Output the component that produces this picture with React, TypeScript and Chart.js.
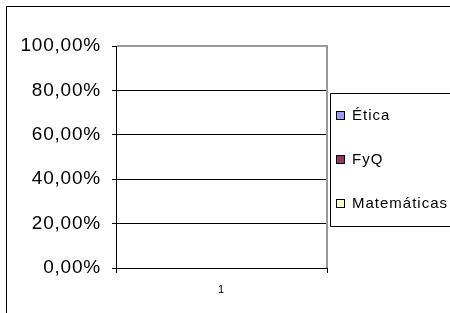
import React, { useEffect, useRef } from "react";
import { Chart, registerables } from "chart.js";

Chart.register(...registerables);

const categories = ["1"];
const seriesNames = ["Ética", "FyQ", "Matemáticas"];
const eticaValues = [0];
const fyqValues = [0];
const matematicasValues = [0];
const seriesColors = ["#9999FF", "#993366", "#FFFFCC"];
const yTickValues = [0, 0.2, 0.4, 0.6, 0.8, 1];

const FONT = "'Liberation Sans', Arial, sans-serif";

const fmtPct = (v: number) => (v * 100).toFixed(2).replace(".", ",") + "%";

const decorPlugin = {
  id: "decor",
  beforeDraw(chart: any) {
    const ctx = chart.ctx;
    ctx.save();
    ctx.fillStyle = "#ffffff";
    ctx.fillRect(0, 0, chart.width, chart.height);
    ctx.strokeStyle = "#000000";
    ctx.lineWidth = 1;
    ctx.beginPath();
    ctx.moveTo(6.5, chart.height + 2);
    ctx.lineTo(6.5, 6.5);
    ctx.lineTo(chart.width + 2, 6.5);
    ctx.stroke();
    ctx.restore();
    ctx.letterSpacing = "0.8px";
  },
  afterDraw(chart: any) {
    const ctx = chart.ctx;
    const a = chart.chartArea;
    ctx.save();
    // gray plot border top & right
    ctx.strokeStyle = "#999999";
    ctx.lineWidth = 2;
    ctx.beginPath();
    ctx.moveTo(a.left + 1, a.top);
    ctx.lineTo(a.right, a.top);
    ctx.lineTo(a.right, a.bottom);
    ctx.stroke();
    // legend
    const lx = 330.5;
    const ly = 93.5;
    const lb = 226.5;
    ctx.strokeStyle = "#000000";
    ctx.lineWidth = 1;
    ctx.beginPath();
    ctx.moveTo(chart.width + 2, ly);
    ctx.lineTo(lx, ly);
    ctx.lineTo(lx, lb);
    ctx.lineTo(chart.width + 2, lb);
    ctx.stroke();
    const ys = [115, 159, 203];
    ctx.font = "15px " + FONT;
    ctx.letterSpacing = "1px";
    ctx.textBaseline = "middle";
    ctx.textAlign = "left";
    chart.data.datasets.forEach((ds: any, i: number) => {
      const y = ys[i];
      ctx.fillStyle = ds.backgroundColor;
      ctx.fillRect(336, y - 4, 9, 9);
      ctx.strokeStyle = "#000000";
      ctx.lineWidth = 1;
      ctx.strokeRect(336.5, y - 3.5, 8, 8);
      ctx.fillStyle = "#000000";
      ctx.fillText(ds.label, 352, y + 1);
    });
    ctx.restore();
    ctx.letterSpacing = "0px";
  },
};

export default function App() {
  const ref = useRef<HTMLCanvasElement | null>(null);
  useEffect(() => {
    if (!ref.current) return;
    const seriesValues = [eticaValues, fyqValues, matematicasValues];
    const chart = new Chart(ref.current, {
      type: "bar",
      data: {
        labels: categories,
        datasets: seriesNames.map((n, i) => ({
          label: n,
          data: seriesValues[i],
          backgroundColor: seriesColors[i],
          borderColor: "#000000",
          borderWidth: 0,
        })),
      },
      options: {
        animation: false,
        responsive: false,
        maintainAspectRatio: false,
        layout: { padding: { left: 0, right: 123, top: 46, bottom: 0 } },
        plugins: { legend: { display: false }, tooltip: { enabled: false } },
        scales: {
          x: {
            offset: true,
            grid: {
              offset: true,
              drawOnChartArea: false,
              drawTicks: true,
              tickLength: 5,
              color: "#000000",
              tickColor: "#000000",
            },
            border: { display: true, color: "#000000", width: 1 },
            ticks: {
              color: "#000000",
              font: { family: FONT, size: 11 },
              padding: 10,
            },
            afterFit: (s: any) => {
              s.height = 45;
            },
          },
          y: {
            min: 0,
            max: 1,
            afterBuildTicks: (s: any) => {
              s.ticks = yTickValues.map((v) => ({ value: v }));
            },
            grid: {
              color: "#000000",
              lineWidth: 1,
              drawTicks: true,
              tickLength: 4,
              tickColor: "#000000",
            },
            border: { display: true, color: "#000000", width: 1 },
            ticks: {
              color: "#000000",
              font: { family: FONT, size: 19 },
              padding: 11,
              callback: (v: any) => fmtPct(Number(v)),
            },
            afterFit: (s: any) => {
              s.width = 116;
            },
          },
        },
      },
      plugins: [decorPlugin],
    });
    return () => chart.destroy();
  }, []);
  return (
    <div style={{ position: "fixed", left: 0, top: 0, width: 450, height: 313 }}>
      <canvas ref={ref} width={450} height={313} style={{ display: "block" }} />
    </div>
  );
}
